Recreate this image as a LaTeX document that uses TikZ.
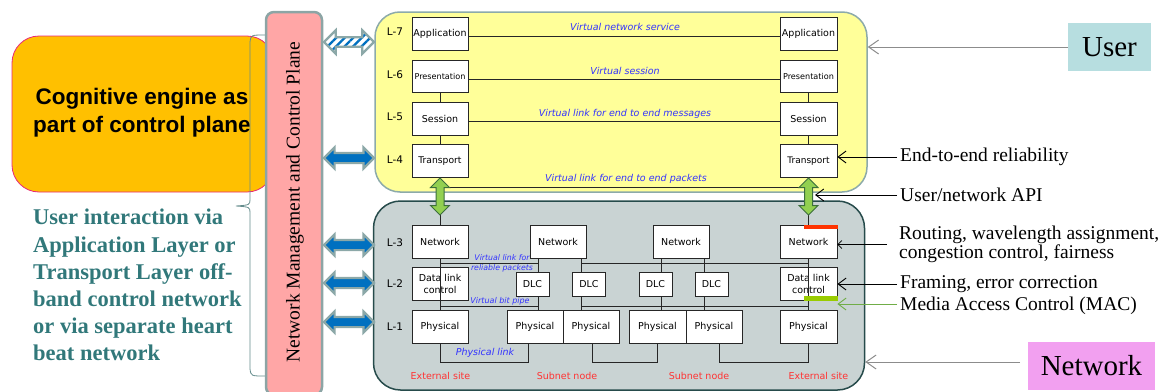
\documentclass[tikz,border=0pt]{standalone}
\usepackage{fontspec}
\setmainfont{Liberation Serif}
\newfontfamily\boxfont{DejaVu Sans}
\newfontfamily\arialfont{Liberation Sans}
\usetikzlibrary{shapes.arrows,arrows.meta,patterns.meta,calc}
\newcommand\fsz[2]{\fontsize{#1}{#2}\selectfont}
\definecolor{orangeF}{RGB}{255,192,0}
\definecolor{orangeD}{RGB}{232,40,120}
\definecolor{planeF}{RGB}{255,166,166}
\definecolor{planeD}{RGB}{140,165,165}
\definecolor{yellowF}{RGB}{255,255,153}
\definecolor{yellowD}{RGB}{140,170,170}
\definecolor{grayF}{RGB}{201,211,211}
\definecolor{grayD}{RGB}{38,75,75}
\definecolor{blueA}{RGB}{0,112,192}
\definecolor{arrD}{RGB}{140,168,168}
\definecolor{greenA}{RGB}{146,208,80}
\definecolor{greenD}{RGB}{60,110,60}
\definecolor{vblue}{RGB}{51,51,255}
\definecolor{redT}{RGB}{255,51,51}
\definecolor{tealT}{RGB}{49,120,122}
\definecolor{userF}{RGB}{183,222,224}
\definecolor{netF}{RGB}{242,160,240}
\definecolor{braceC}{RGB}{100,140,140}
\definecolor{barR}{RGB}{255,51,0}
\definecolor{barG}{RGB}{153,204,0}
\definecolor{macG}{RGB}{112,173,71}
\tikzset{
  stk/.style={draw=black!85, fill=white, line width=0.8pt, inner sep=0pt,
    font=\boxfont\fsz{9.5}{12}, align=center, minimum width=56pt, minimum height=33pt},
  dlcs/.style={stk, minimum width=33pt, minimum height=24pt},
  lay/.style={font=\boxfont\fsz{10.5}{12}},
  vlab/.style={font=\boxfont\itshape\fsz{9.5}{11}, text=vblue, inner sep=0pt},
  site/.style={font=\boxfont\fsz{9.5}{11}, text=redT, inner sep=0pt},
  ln/.style={draw=black!85, line width=0.8pt},
  ann/.style={font=\fsz{19.5}{18.5}, anchor=west, inner xsep=3pt, inner ysep=0pt, align=left},
  chev/.style={line width=0.9pt, -{Straight Barb[length=8pt,width=12pt,line width=0.9pt]}},
  garrow/.style={draw=black!45, line width=1pt, -{Straight Barb[length=10pt,width=14pt,line width=1pt]}},
  dblarr/.style={double arrow, draw=arrD, line width=2.2pt, fill=blueA, inner sep=4pt,
    minimum height=50pt, minimum width=19pt, double arrow head extend=5.5pt},
  greenarr/.style={double arrow, rotate=90, draw=greenD, line width=1pt, fill=greenA,
    inner sep=3.5pt, minimum height=37pt, minimum width=18pt, double arrow head extend=5.5pt},
}
\begin{document}
\begin{tikzpicture}[x=1pt,y=-1pt]
\useasboundingbox (0,0) rectangle (1164,391);

% cognitive engine
\node[draw=orangeD, line width=0.8pt, fill=orangeF, rounded corners=27pt,
  minimum width=262pt, minimum height=156pt, inner sep=0pt] (cog) at (143,114) {};
\node[font=\arialfont\bfseries\fsz{22.5}{28}, align=center] (cogtxt) at (142,113)
  {Cognitive engine as\\part of control plane};

% brace
\draw[braceC, line width=0.8pt] (265,35) .. controls (251,35) .. (250,42) -- (250,199)
  .. controls (250,205) .. (236,206) .. controls (250,207) .. (250,213) -- (250,369)
  .. controls (251,376) .. (265,376);

% user interaction text
\node[anchor=north west, inner sep=0pt, align=left, text=tealT,
  font=\bfseries\fsz{22.5}{27.2}] (uitxt) at (33,209)
  {User interaction via\\Application Layer or\\Transport Layer off-\\band control network\\or via separate heart\\beat network};

% control plane
\node[draw=planeD, line width=2.5pt, fill=planeF, rounded corners=8pt,
  minimum width=56pt, minimum height=383pt, inner sep=0pt] (plane) at (294,203.5) {};
\node[rotate=90, font=\fsz{19.5}{20}] (planetxt) at (295,202) {Network Management and Control Plane};

% user & network boxes
\node[draw=yellowD, line width=1.5pt, fill=yellowF, rounded corners=25pt,
  minimum width=492pt, minimum height=180pt, inner sep=0pt] (ybox) at (621,102) {};
\node[draw=grayD, line width=1.5pt, fill=grayF, rounded corners=27pt,
  minimum width=491pt, minimum height=189pt, inner sep=0pt] (gbox) at (619,295.5) {};

% layer labels
\node[lay] (l7) at (395,32) {L-7};
\node[lay] (l6) at (395,75) {L-6};
\node[lay] (l5) at (395,117) {L-5};
\node[lay] (l4) at (395,160) {L-4};
\node[lay] (l3) at (395,243) {L-3};
\node[lay] (l2) at (395,284) {L-2};
\node[lay] (l1) at (395,327) {L-1};

% ---------- upper layers ----------
\coordinate (tl) at (440,187);
\coordinate (tr) at (808,187);
\draw[ln] (tl) -- (tr);
\draw[ln] (440,92) -- (440,145);
\draw[ln] (808,92) -- (808,145);

\node[stk] (aL) at (440,33.5) {Application};
\node[stk, minimum height=32pt, font=\boxfont\fsz{8.1}{10}] (prL) at (440,76) {Presentation};
\node[stk] (sL) at (440,118.5) {Session};
\node[stk, font=\boxfont\fsz{9.2}{10}] (tL) at (440,161) {Transport};
\node[stk, minimum width=57pt] (aR) at (808.5,33.5) {Application};
\node[stk, minimum width=57pt, minimum height=32pt, font=\boxfont\fsz{8.1}{10}] (prR) at (808.5,76) {Presentation};
\node[stk, minimum width=57pt] (sR) at (808.5,118.5) {Session};
\node[stk, minimum width=57pt, font=\boxfont\fsz{9}{10}] (tR) at (808.5,161) {Transport};

\draw[ln] ($(aL.east)+(0,2.5)$) -- ($(aR.west)+(0,2.5)$);
\draw[ln] ($(prL.east)+(0,3)$) -- ($(prR.west)+(0,3)$);
\draw[ln] ($(sL.east)+(0,2.5)$) -- ($(sR.west)+(0,2.5)$);

\node[vlab] (v7) at (625,27) {Virtual network service};
\node[vlab] (v6) at (625,71) {Virtual session};
\node[vlab] (v5) at (625,114) {Virtual link for end to end messages};
\node[vlab] (v4) at (626,179) {Virtual link for end to end packets};

% ---------- network layers ----------
\node[stk] (nL) at (440,241.5) {Network};
\node[stk] (dL) at (440,283.5) {Data link\\control};
\node[stk] (pL) at (440,326.5) {Physical};
\node[stk] (n1) at (558,241.5) {Network};
\node[stk] (n2) at (681,241.5) {Network};
\node[stk, minimum width=57pt] (nR) at (808.5,241.5) {Network};
\node[stk, minimum width=57pt] (dR) at (808.5,283.5) {Data link\\control};
\node[stk, minimum width=57pt] (pR) at (808.5,326.5) {Physical};

\draw[ln] (nL.south) -- (pL.north);
\draw[ln] (nR.south) -- (pR.north);
\draw[ln] ($(n1.south west)+(9,0)$) -- ++(0,52);
\draw[ln] ($(n1.south east)+(-5,0)$) -- ++(0,52);
\draw[ln] ($(n2.south west)+(9,0)$) -- ++(0,52);
\draw[ln] ($(n2.south east)+(-5,0)$) -- ++(0,52);
\draw[ln] ($(nL.south)+(0,5)$) -- ($(n1.south west)+(9,5)$);
\draw[ln] ($(n1.south east)+(-5,5)$) -- ($(nR.south)+(0,5)$);
\draw[ln] ($(nL.south)+(0,48)$) -- ($(n1.south west)+(9,48)$);
\draw[ln] ($(n1.south east)+(-5,48)$) -- ($(nR.south)+(0,48)$);

\node[dlcs] (d1) at (532.5,284) {DLC};
\node[dlcs] (d2) at (589,284) {DLC};
\node[dlcs] (d3) at (655.5,284) {DLC};
\node[dlcs] (d4) at (711.5,284) {DLC};
\node[stk] (p1) at (535,326.5) {Physical};
\node[stk] (p2) at (591,326.5) {Physical};
\node[stk, minimum width=57pt] (p3) at (657.5,326.5) {Physical};
\node[stk] (p4) at (714,326.5) {Physical};

\draw[ln] (pL.south) -- ++(0,19) -| ($(p1.south west)+(22,0)$);
\draw[ln] ($(p2.south)+(1,0)$) -- ++(0,19) -| (p3.south);
\draw[ln] ($(p4.south)+(5,0)$) -- ++(0,19) -| (pR.south);

\node[vlab, font=\boxfont\itshape\fsz{7.8}{10}, align=center] (vrp) at (502,263) {Virtual link for\\reliable packets};
\node[vlab, font=\boxfont\itshape\fsz{8}{10}] (vbp) at (500,301) {Virtual bit pipe};
\node[vlab] (vpl) at (485,353) {Physical link};

\node[site] (s1) at (440.5,376) {External site};
\node[site] (s2) at (567,376) {Subnet node};
\node[site] (s3) at (699,376) {Subnet node};
\node[site] (s4) at (818.5,376) {External site};

% coloured bars
\fill[barR] ($(nR.north east)+(1,0)$) rectangle ++(-34,4);
\fill[barG] ($(dR.south east)+(1,1)$) rectangle ++(-34,-5);

% green API arrows
\draw[ln] (440,214) -- (nL.north);
\draw[ln] (808.5,214) -- (nR.north);
\node[greenarr] (gaL) at (440,196.5) {};
\node[greenarr] (gaR) at (808.5,196.5) {};

% control plane arrows
\node[dblarr, fill=none, inner sep=3.5pt, double arrow head extend=7pt, minimum width=21pt,
  preaction={fill=white},
  pattern={Lines[angle=45,distance=6pt,line width=2.4pt]}, pattern color=blueA] (c7) at (349,42) {};
\node[dblarr] (c4) at (349,158) {};
\node[dblarr] (c3) at (349,245) {};
\node[dblarr] (c2) at (349,283) {};
\node[dblarr] (c1) at (349,322) {};

% annotations
\node[draw=none, fill=userF, minimum width=83pt, minimum height=48pt, inner sep=0pt,
  font=\fsz{29}{30}] (user) at (1109.5,47) {User};
\node[draw=none, fill=netF, minimum width=127pt, minimum height=48pt, inner sep=0pt,
  font=\fsz{29}{30}] (net) at (1091.5,366) {Network};
\draw[garrow] (user.west) -- (user.west -| ybox.east);
\coordinate (netfrom) at (1020,362);
\draw[garrow] (netfrom) -- (netfrom -| gbox.east);

\node[ann] (e2e) at (897,157) {End-to-end reliability};
\draw[chev] (e2e.west) -- (e2e.west -| tR.east);
\node[ann] (api) at (897,195) {User/network API};
\coordinate (apiend) at (815,195);
\draw[chev] (api.west) -- (apiend);
\node[ann, inner xsep=12pt] (route) at (887,244.5) {Routing, wavelength assignment,\\congestion control, fairness};
\draw[line width=0.9pt, -{Straight Barb[length=4pt,width=8pt,line width=0.7pt]}] (route.west) -- (route.west -| nR.east);
\node[ann] (frame) at (897,284) {Framing, error correction};
\draw[chev] (frame.west) -- (frame.west -| dR.east);
\node[ann] (mac) at (897,306) {Media Access Control (MAC)};
\coordinate (macfrom) at (897,304);
\draw[chev, macG] (macfrom) -- (macfrom -| dR.east);
\end{tikzpicture}
\end{document}
